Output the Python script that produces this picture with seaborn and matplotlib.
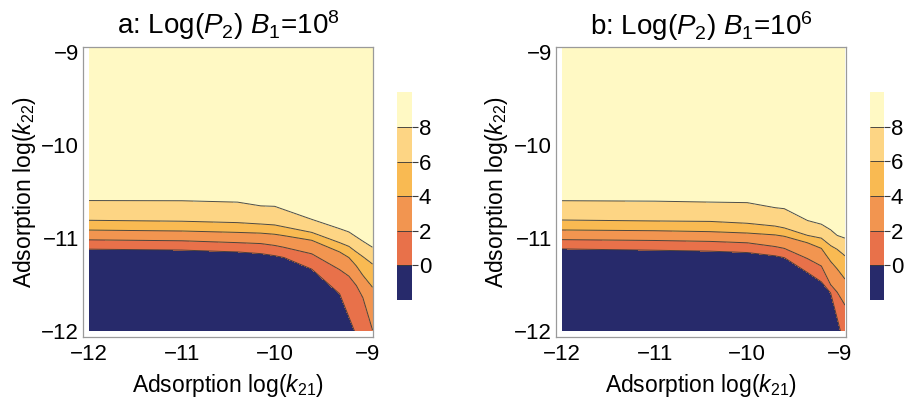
import numpy as np
import matplotlib
matplotlib.use("Agg")
import matplotlib.pyplot as plt
from matplotlib.patches import Rectangle
import seaborn as sns

# ---------------- data ----------------
levels = [-2, 0, 2, 4, 6, 8, 10]
tick_levels = [0, 2, 4, 6, 8]
band_colors = ["#272a6b", "#e8714a", "#f29550", "#f9ba52", "#fdd584", "#fff9c4"]
axis_ticks = [-12, -11, -10, -9]

titles = ["a: Log($P_2$) $B_1$=10$^8$", "b: Log($P_2$) $B_1$=10$^6$"]

# panel a: log(k21) sample columns and log(k22) heights of each contour level
k21_a = [-12.0, -11.0, -10.4, -10.15, -10.0, -9.9, -9.6, -9.3, -9.2, -9.12, -9.05, -8.945]
lvl0_a = [-11.120, -11.130, -11.150, -11.168, -11.190, -11.210, -11.335, -11.600, -11.850, -12.050, -12.225, -12.475]
lvl2_a = [-11.020, -11.030, -11.050, -11.060, -11.080, -11.100, -11.170, -11.340, -11.410, -11.510, -11.640, -11.990]
lvl4_a = [-10.915, -10.925, -10.940, -10.948, -10.960, -10.975, -11.025, -11.150, -11.210, -11.300, -11.400, -11.530]
lvl6_a = [-10.810, -10.820, -10.835, -10.850, -10.860, -10.880, -10.940, -11.050, -11.090, -11.150, -11.200, -11.280]
lvl8_a = [-10.598, -10.600, -10.615, -10.655, -10.660, -10.695, -10.800, -10.900, -10.935, -10.988, -11.034, -11.100]

# panel b
k21_b = [-12.0, -11.0, -10.4, -10.0, -9.7, -9.6, -9.35, -9.2, -9.1, -9.03, -8.945]
lvl0_b = [-11.116, -11.130, -11.140, -11.155, -11.190, -11.210, -11.370, -11.470, -11.590, -11.860, -12.190]
lvl2_b = [-11.016, -11.025, -11.035, -11.050, -11.090, -11.110, -11.220, -11.300, -11.500, -11.580, -11.720]
lvl4_b = [-10.912, -10.920, -10.930, -10.945, -10.965, -10.980, -11.050, -11.110, -11.250, -11.330, -11.440]
lvl6_b = [-10.805, -10.815, -10.820, -10.840, -10.870, -10.890, -10.970, -11.000, -11.080, -11.120, -11.190]
lvl8_b = [-10.597, -10.602, -10.612, -10.618, -10.672, -10.683, -10.810, -10.850, -10.910, -10.970, -11.000]

panels = [
    (k21_a, [lvl0_a, lvl2_a, lvl4_a, lvl6_a, lvl8_a]),
    (k21_b, [lvl0_b, lvl2_b, lvl4_b, lvl6_b, lvl8_b]),
]

# ---------------- style ----------------
sns.set_style("white")
plt.rcParams["font.family"] = ["Liberation Sans", "DejaVu Sans"]
plt.rcParams["mathtext.fontset"] = "custom"
plt.rcParams["mathtext.rm"] = "Liberation Sans"
plt.rcParams["mathtext.it"] = "Liberation Sans:italic"
plt.rcParams["axes.unicode_minus"] = True
plt.rcParams["text.color"] = "black"
plt.rcParams["axes.labelcolor"] = "black"
plt.rcParams["axes.titlecolor"] = "black"

W, H = 906, 404
fig = plt.figure(figsize=(W / 100, H / 100), dpi=100)

ax_px = [(83.3, 46.7, 290.0, 290.0), (556.3, 47.2, 289.4, 289.5)]
cb_px = [(397.3, 92.3, 14.4, 207.7), (869.7, 92.0, 14.0, 208.0)]
ylab_x = [24.5, 496.3]

def frac(x, y, w, h):
    return [x / W, 1 - (y + h) / H, w / W, h / H]

line_col = "#3a3a3a"
frame_col = "#9a9a9a"
fs_tick = 16
fs_label = 16.5
fs_title = 20

for i, (k21, lvl_rows) in enumerate(panels):
    ax = fig.add_axes(frac(*ax_px[i]))
    ncol = len(k21)
    y_rows = [[-12.8] * ncol] + lvl_rows + [[-8.945] * ncol]
    Y = np.array(y_rows)
    X = np.tile(np.array(k21), (len(y_rows), 1))
    Z = np.tile(np.array(levels, dtype=float)[:, None], (1, ncol))

    cs = ax.contourf(X, Y, Z, levels=levels, colors=band_colors)
    cl = ax.contour(X, Y, Z, levels=tick_levels, colors=line_col, linewidths=0.7, alpha=0.9)
    clip = Rectangle((-12.0, -12.0), 3.055, 3.055, transform=ax.transData)
    cs.set_clip_path(clip)
    cl.set_clip_path(clip)

    ax.set_xlim(-12.062, -8.937)
    ax.set_ylim(-12.06, -8.946)
    ax.set_xticks(axis_ticks)
    ax.set_yticks(axis_ticks)
    ax.tick_params(direction="in", length=4, width=0.8, color=frame_col,
                   labelsize=fs_tick, labelcolor="black")
    ax.tick_params(axis="x", pad=5)
    ax.tick_params(axis="y", pad=3)
    for s in ax.spines.values():
        s.set_color(frame_col)
        s.set_linewidth(0.9)
    ax.set_title(titles[i], fontsize=fs_title, pad=9)

    axx, axy, axw, axh = ax_px[i]
    fig.text((axx + axw / 2) / W, 1 - 391.7 / H, "Adsorption log($k_{21}$)",
             ha="center", va="baseline", fontsize=fs_label)
    fig.text(ylab_x[i] / W, 1 - (axy + axh / 2) / H, "Adsorption log($k_{22}$)",
             ha="center", va="center", rotation=90, fontsize=fs_label)

    cax = fig.add_axes(frac(*cb_px[i]))
    cb = fig.colorbar(cs, cax=cax, ticks=tick_levels)
    cb.outline.set_visible(False)
    cb.add_lines(cl)
    cax.tick_params(direction="out", length=4, width=0.8, color=line_col,
                    labelsize=fs_tick, labelcolor="black", pad=1)

fig.savefig("out.png", dpi=100)
